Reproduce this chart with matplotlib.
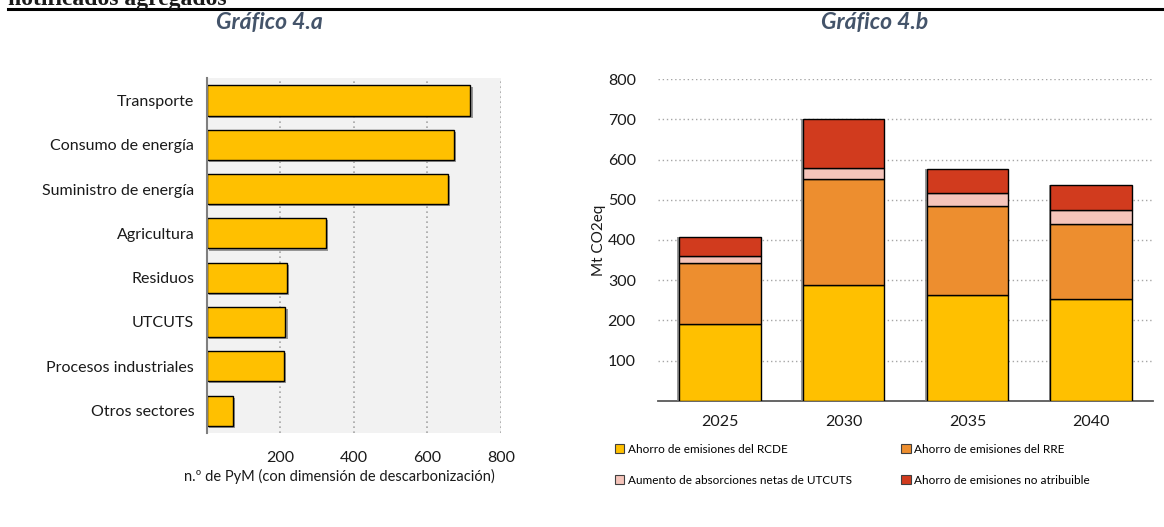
import matplotlib
matplotlib.use("Agg")
import matplotlib.pyplot as plt
import matplotlib.patheffects as pe
from matplotlib.patches import Patch

plt.rcParams["font.family"] = ["Lato", "DejaVu Sans"]

# Gráfico 4.a: PyM por sector
sectores = ["Transporte", "Consumo de energía", "Suministro de energía",
            "Agricultura", "Residuos", "UTCUTS", "Procesos industriales",
            "Otros sectores"]
n_pym = [717, 673, 655, 325, 217, 214, 210, 72]
x_ticks_a = [200, 400, 600, 800]

# Gráfico 4.b: ahorro de emisiones (Mt CO2eq)
anios = ["2025", "2030", "2035", "2040"]
ahorro_rcde = [192, 288, 263, 252]
ahorro_rre = [150, 263, 221, 187]
absorciones_utcuts = [19, 27, 32, 35]
no_atribuible = [46, 124, 61, 63]
y_ticks_b = [100, 200, 300, 400, 500, 600, 700, 800]

series_b = [
    ("Ahorro de emisiones del RCDE", ahorro_rcde, "#FFC000"),
    ("Ahorro de emisiones del RRE", ahorro_rre, "#ED8E2F"),
    ("Aumento de absorciones netas de UTCUTS", absorciones_utcuts, "#F5C4BA"),
    ("Ahorro de emisiones no atribuible", no_atribuible, "#D13B1E"),
]

fig = plt.figure(figsize=(11.64, 5.27), dpi=100)

# encabezado de la sección (cortado arriba) y filete negro
fig.text(8 / 1164, 1 - 5.0 / 527, "notificados agregados", family="Liberation Serif",
         weight="bold", fontsize=17, color="#1a1a1a", va="baseline", ha="left")
fig.add_artist(plt.Line2D([8 / 1164, 1], [1 - 8.7 / 527] * 2, color="black", lw=2.2))

title_kw = dict(fontsize=16.5, weight="bold", style="italic", color="#44546A",
                ha="center", va="center")
fig.text(269 / 1164, 1 - 23 / 527, "Gráfico 4.a", **title_kw)
fig.text(875 / 1164, 1 - 23 / 527, "Gráfico 4.b", **title_kw)

# --- Gráfico 4.a ---
ax1 = fig.add_axes([0.1776, 0.1789, 0.2528, 0.6725])
ax1.set_facecolor("#F2F2F2")
pos = list(range(len(sectores)))
bars = ax1.barh(pos, n_pym, height=0.68, color="#FFC000", edgecolor="black",
                linewidth=1.0, zorder=3)
for b in bars:
    b.set_path_effects([pe.SimplePatchShadow(offset=(1.5, -1.5), shadow_rgbFace="#7F7F7F",
                                             alpha=0.8), pe.Normal()])
ax1.set_yticks(pos)
ax1.set_yticklabels(sectores, fontsize=11.5, color="#1a1a1a")
ax1.set_ylim(7.5, -0.5)
ax1.set_xlim(0, 800)
ax1.set_xticks(x_ticks_a)
ax1.set_xticklabels([str(v) for v in x_ticks_a], fontsize=11.5, color="#1a1a1a")
ax1.tick_params(axis="both", length=0)
ax1.tick_params(axis="y", pad=9)
ax1.tick_params(axis="x", pad=13)
ax1.grid(axis="x", linestyle=(0, (1, 2)), color="#A6A6A6", linewidth=1.2, zorder=0)
for s in ["top", "right", "bottom"]:
    ax1.spines[s].set_visible(False)
ax1.spines["left"].set_color("#7F7F7F")
ax1.spines["left"].set_linewidth(1.5)
ax1.spines["left"].set_zorder(4)
fig.text(339.5 / 1164, 1 - 476 / 527, "n.º de PyM (con dimensión de descarbonización)",
         fontsize=10.5, color="#1a1a1a", ha="center", va="center")

# --- Gráfico 4.b ---
ax2 = fig.add_axes([0.5653, 0.2397, 0.4253, 0.6098])
xpos = list(range(len(anios)))
base = [0] * len(anios)
handles = []
for label, vals, col in series_b:
    bb = ax2.bar(xpos, vals, bottom=base, width=0.66, color=col, edgecolor="black",
                 linewidth=1.0, zorder=3)
    for b in bb:
        b.set_path_effects([pe.SimplePatchShadow(offset=(-1.2, 0), shadow_rgbFace="#7F7F7F",
                                                 alpha=0.8), pe.Normal()])
    base = [a + v for a, v in zip(base, vals)]
    handles.append(Patch(facecolor=col, edgecolor="#404040", linewidth=0.8, label=label))

ax2.set_xlim(-0.5, 3.5)
ax2.set_ylim(0, 800)
ax2.set_xticks(xpos)
ax2.set_xticklabels(anios, fontsize=11.5, color="#1a1a1a")
ax2.set_yticks(y_ticks_b)
ax2.set_yticklabels([str(v) for v in y_ticks_b], fontsize=11.5, color="#1a1a1a")
ax2.tick_params(axis="both", length=0)
ax2.tick_params(axis="y", pad=16)
ax2.tick_params(axis="x", pad=10)
ax2.grid(axis="y", linestyle=(0, (1, 2)), color="#A6A6A6", linewidth=1.0, zorder=0)
for s in ["top", "right", "left"]:
    ax2.spines[s].set_visible(False)
ax2.spines["bottom"].set_color("#595959")
ax2.spines["bottom"].set_linewidth(1.3)
ax2.set_ylabel("Mt CO2eq", fontsize=11, color="#1a1a1a", labelpad=1.5)

# leyenda en dos filas
orden = [handles[0], handles[2], handles[1], handles[3]]
fig.legend(handles=orden, labels=[h.get_label() for h in orden], ncol=2,
           loc="upper left", bbox_to_anchor=(609 / 1164, 1 - 438 / 527),
           frameon=False, fontsize=8.5, handlelength=0.8, handleheight=0.8,
           handletextpad=0.3, labelspacing=1.7, columnspacing=4.2, borderpad=0)

fig.savefig("out.png", dpi=100)
